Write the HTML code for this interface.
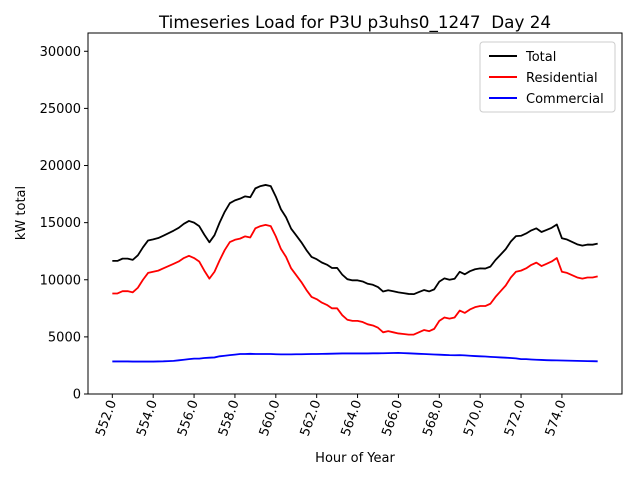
<!DOCTYPE html>
<html><head><meta charset="utf-8"><style>
body{margin:0;background:#fff;font-family:"Liberation Sans","DejaVu Sans",sans-serif}
svg text{font-family:"DejaVu Sans","Liberation Sans",sans-serif}
</style></head><body>
<svg id="c" width="640" height="480" xmlns="http://www.w3.org/2000/svg">
<rect width="640" height="480" fill="#fff"/>
<text x="355" y="28" font-size="16.8" text-anchor="middle" xml:space="preserve">Timeseries Load for P3U p3uhs0_1247  Day 24</text>
<g id="axes"></g>
<g id="series"></g>
<rect x="88" y="33" width="534" height="361" fill="none" stroke="#000" stroke-width="1"/>
<text x="355" y="462" font-size="13" text-anchor="middle">Hour of Year</text>
<text x="25" y="213" font-size="13" text-anchor="middle" transform="rotate(-90 25 213)">kW total</text>
<g>
<rect x="480" y="42" width="135" height="70" fill="#fff" stroke="#ccc" rx="3"/>
<line x1="489" y1="56" x2="517" y2="56" stroke="#000" stroke-width="2"/>
<text x="526" y="61" font-size="13">Total</text>
<line x1="489" y1="77" x2="517" y2="77" stroke="red" stroke-width="2"/>
<text x="526" y="82" font-size="13">Residential</text>
<line x1="489" y1="98" x2="517" y2="98" stroke="blue" stroke-width="2"/>
<text x="526" y="103" font-size="13">Commercial</text>
</g>
</svg>
<script>
const startHour = 552.0;
const stepHours = 0.25;
const residential = [
8800,8800,9000,9000,8900,9300,10000,10600,
10700,10800,11000,11200,11400,11600,11900,12100,
11900,11600,10800,10100,10700,11700,12600,13300,
13500,13600,13800,13700,14500,14700,14800,14700,
13800,12700,12000,11000,10400,9800,9100,8500,
8300,8000,7800,7500,7500,6900,6500,6400,
6400,6300,6100,6000,5800,5400,5500,5400,
5300,5250,5200,5200,5400,5600,5500,5700,
6400,6700,6600,6700,7300,7100,7400,7600,
7700,7700,7900,8500,9000,9500,10200,10700,
10800,11000,11300,11500,11200,11400,11600,11900,
10700,10600,10400,10200,10100,10200,10200,10300];
const commercial = [
2850,2850,2850,2850,2840,2840,2840,2840,
2840,2850,2860,2880,2900,2950,3000,3050,
3100,3100,3150,3180,3200,3300,3350,3400,
3450,3500,3500,3520,3500,3500,3500,3500,
3480,3470,3470,3470,3480,3480,3490,3500,
3500,3510,3520,3530,3540,3550,3550,3550,
3550,3550,3550,3560,3560,3570,3580,3590,
3600,3580,3560,3540,3520,3500,3480,3460,
3440,3420,3400,3390,3400,3380,3350,3320,
3300,3280,3250,3230,3200,3180,3150,3120,
3050,3050,3020,3000,2980,2960,2950,2940,
2930,2920,2910,2900,2890,2880,2870,2860];
const yTicks = [0,5000,10000,15000,20000,25000,30000];
const xTicks = [552,554,556,558,560,562,564,566,568,570,572,574];
const total = residential.map((v,i)=>v+commercial[i]);

const X0=88,X1=622,Y0=394,Y1=33;
const xMin=550.81,xMax=576.94,yMin=0,yMax=31600;
const sx=h=>X0+(h-xMin)/(xMax-xMin)*(X1-X0);
const sy=v=>Y0-(v-yMin)/(yMax-yMin)*(Y0-Y1);
const NS="http://www.w3.org/2000/svg";
const axes=document.getElementById('axes');
const ser=document.getElementById('series');
function mk(tag,attrs,parent){const e=document.createElementNS(NS,tag);for(const k in attrs)e.setAttribute(k,attrs[k]);parent.appendChild(e);return e;}
yTicks.forEach(t=>{
  const y=sy(t);
  const l=mk('line',{x1:X0-4,x2:X0,y1:y,y2:y,stroke:'#000'},axes);
  
  
  const tx=mk('text',{x:X0-7,y:y+4.5,'font-size':13,'text-anchor':'end'},axes);
  tx.textContent=t;
  
  
});
xTicks.forEach(t=>{
  const x=sx(t);
  const l=mk('line',{x1:x,x2:x,y1:Y0,y2:Y0+4,stroke:'#000'},axes);
  
  
  const tx=mk('text',{x:x+4,y:Y0+8,'font-size':13,'text-anchor':'end',transform:`rotate(-70 ${x+4} ${Y0+8})`},axes);
  tx.textContent=t.toFixed(1);
  
  
});
function line(arr,color,name){
  const pts=arr.map((v,i)=>sx(startHour+i*stepHours).toFixed(2)+','+sy(v).toFixed(2)).join(' ');
  const p=mk('polyline',{points:pts,fill:'none',stroke:color,'stroke-width':1.8,'stroke-linejoin':'round'},ser);
  
  
}
line(total,'#000','total-line');
line(residential,'red','residential-line');
line(commercial,'blue','commercial-line');
</script>
</body></html>
